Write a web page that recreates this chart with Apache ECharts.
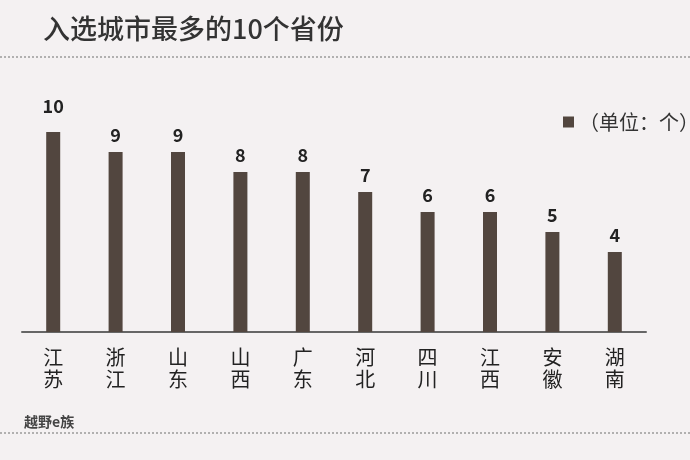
<!DOCTYPE html>
<html><head><meta charset="utf-8">
<script src="https://cdn.jsdelivr.net/npm/echarts@6/dist/echarts.min.js"></script>
<style>html,body{margin:0;padding:0;background:#f4f1f2}#c{width:690px;height:460px}</style>
</head><body><div id="c"></div>
<script>
var titleText = '入选城市最多的10个省份';
var seriesName = '（单位：个）';
var categories = ['江苏','浙江','山东','山西','广东','河北','四川','江西','安徽','湖南'];
var values = [10, 9, 9, 8, 8, 7, 6, 6, 5, 4];
var sourceText = '越野e族';

var chart = echarts.init(document.getElementById('c'));
var FONT = '"Noto Sans CJK SC", "Noto Sans", sans-serif';
chart.setOption({
  backgroundColor: '#f4f1f2',
  textStyle: {fontFamily: FONT},
  title: {text: titleText, left: 38, top: 10,
    textStyle: {fontSize: 27, fontWeight: 500, color: '#333', fontFamily: FONT}},
  legend: {data: [seriesName], left: 558, top: 107, icon: 'rect', itemWidth: 11, itemHeight: 11, itemGap: 6,
    textStyle: {fontSize: 20, color: '#333', fontFamily: FONT}},
  grid: {left: 22, right: 44, top: 132, bottom: 128},
  xAxis: {type: 'category', data: categories,
    axisLine: {lineStyle: {color: '#666', width: 2}},
    axisTick: {show: false},
    axisLabel: {margin: 14, fontSize: 20, lineHeight: 22, color: '#222', fontFamily: FONT,
      formatter: function (v) { return v.split('').join('\n'); }}},
  yAxis: {type: 'value', min: 0, max: 10, show: false, splitLine: {show: false}},
  series: [{name: seriesName, type: 'bar', barWidth: 14,
    data: values.map(function (v, i) { return i === 0 ? {value: v, label: {distance: 17}} : v; }),
    itemStyle: {color: '#52463f'},
    label: {show: true, position: 'top', distance: 8, fontSize: 18, fontWeight: 'bold', color: '#222', fontFamily: FONT}}],
  graphic: [
    {type: 'line', shape: {x1: 0, y1: 57, x2: 690, y2: 57}, style: {stroke: '#9a9a9a', lineWidth: 1.5, lineDash: [2, 2]}},
    {type: 'line', shape: {x1: 0, y1: 433, x2: 690, y2: 433}, style: {stroke: '#9a9a9a', lineWidth: 1.5, lineDash: [2, 2]}},
    {type: 'text', left: 24, top: 415, style: {text: sourceText, fontSize: 14, fontWeight: 'bold', fill: '#444', fontFamily: FONT}}
  ]
});
</script></body></html>
